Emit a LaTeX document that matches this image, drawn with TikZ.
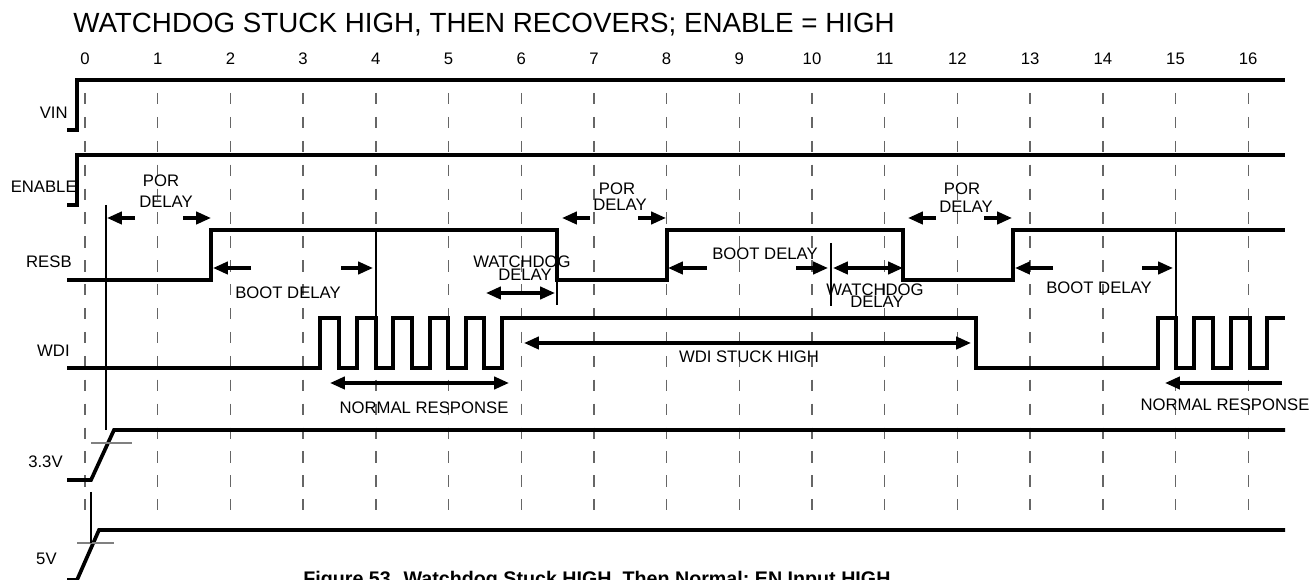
\documentclass[tikz,border=0pt]{standalone}
\usepackage{fontspec}
\setmainfont{Liberation Sans}
\usetikzlibrary{arrows.meta}

\tikzset{
  signal/.style={line width=2.1pt, line join=miter},
  grid line/.style={black!60, line width=0.8pt, dash pattern=on 6.4pt off 7.2pt},
  thin mark/.style={line width=0.6pt},
  level mark/.style={black!50, line width=0.9pt},
  delay arrow/.style={line width=1.9pt, -{Triangle[length=8.5pt,width=7pt]}},
  span arrow/.style={line width=1.9pt, {Triangle[length=8.5pt,width=7pt]}-{Triangle[length=8.5pt,width=7pt]}},
  lbl/.style={font=\fontsize{9.5}{11}\selectfont, inner sep=0pt},
  title/.style={font=\fontsize{15.8}{18}\selectfont, inner sep=0pt},
  caption/.style={font=\fontsize{11.2}{13}\selectfont\bfseries, inner sep=0pt},
}

\begin{document}
\begin{tikzpicture}[x=0.02cm, y=-0.02cm]
  % Page size
  \useasboundingbox (0,0) rectangle (1315,580);
  \clip (0,0) rectangle (1315,580);

  % Title
  \node[title, anchor=west] (title) at (73,25) {WATCHDOG STUCK HIGH, THEN RECOVERS; ENABLE = HIGH};

  % Time scale and dashed grid
  \foreach \i in {0,...,16} {
    \node[lbl] (t\i) at (85+72.7*\i,59) {\i};
    \draw[grid line] (85+72.7*\i,93) -- (85+72.7*\i,518);
  }

  % Signal names
  \node[lbl, anchor=east] (vin)    at (68,113) {VIN};
  \node[lbl, anchor=east] (enable) at (77,187) {ENABLE};
  \node[lbl, anchor=east] (resb)   at (72,262) {RESB};
  \node[lbl, anchor=east] (wdi)    at (70,351) {WDI};
  \node[lbl, anchor=east] (v33)    at (63,462) {3.3V};
  \node[lbl, anchor=east] (v5)     at (57,559) {5V};

  % Waveforms
  \draw[signal] (67,130) -- (77,130) -- (77,80) -- (1285,80);
  \draw[signal] (67,205) -- (77,205) -- (77,155) -- (1285,155);
  \draw[signal] (67,280) -- (211,280) -- (211,230) -- (557,230) -- (557,280) -- (667,280)
    -- (667,230) -- (903,230) -- (903,280) -- (1013,280) -- (1013,230) -- (1285,230);
  \draw[signal] (67,368) -- (320,368) -- (320,318) -- (339,318) -- (339,368) -- (357,368)
    -- (357,318) -- (376,318) -- (376,368) -- (393,368) -- (393,318) -- (412,318)
    -- (412,368) -- (430,368) -- (430,318) -- (448,318) -- (448,368) -- (466,368)
    -- (466,318) -- (484,318) -- (484,368) -- (502,368) -- (502,318) -- (976,318)
    -- (976,368) -- (1158,368) -- (1158,318) -- (1176,318) -- (1176,368) -- (1194,368)
    -- (1194,318) -- (1213,318) -- (1213,368) -- (1231,368) -- (1231,318) -- (1250,318)
    -- (1250,368) -- (1267,368) -- (1267,318) -- (1285,318);
  \draw[signal] (67,480) -- (91,480) -- (114,430) -- (1285,430);
  \draw[signal] (67,580) -- (77,580) -- (99,530) -- (1285,530);

  % Threshold levels and reference lines
  \draw[level mark] (91,443) -- (132,443);
  \draw[level mark] (77,543) -- (114,543);
  \draw[thin mark] (106,205) -- (106,430);
  \draw[thin mark] (91,492) -- (91,543);
  \draw[thin mark] (376,230) -- (376,318);
  \draw[thin mark] (557,280) -- (557,305);
  \draw[thin mark] (831,243) -- (831,306);
  \draw[thin mark] (1176,230) -- (1176,318);

  % POR delays
  \draw[delay arrow] (135,218) -- (107,218);
  \draw[delay arrow] (183,218) -- (211,218);
  \node[lbl] (por1)  at (161,181) {POR};
  \node[lbl] (pord1) at (166,202) {DELAY};
  \draw[delay arrow] (590,218) -- (562,218);
  \draw[delay arrow] (638,218) -- (666,218);
  \node[lbl] (por2)  at (617,189) {POR};
  \node[lbl] (pord2) at (620,205) {DELAY};
  \draw[delay arrow] (936,218) -- (908,218);
  \draw[delay arrow] (984,218) -- (1012,218);
  \node[lbl] (por3)  at (962,189) {POR};
  \node[lbl] (pord3) at (966,207) {DELAY};

  % Boot delays
  \draw[delay arrow] (251,268) -- (213,268);
  \draw[delay arrow] (341,268) -- (373,268);
  \node[lbl] (boot1) at (288,293) {BOOT DELAY};
  \draw[delay arrow] (707,268) -- (668,268);
  \draw[delay arrow] (796,268) -- (828,268);
  \node[lbl] (boot2) at (765,254) {BOOT DELAY};
  \draw[delay arrow] (1053,268) -- (1015,268);
  \draw[delay arrow] (1142,268) -- (1173,268);
  \node[lbl] (boot3) at (1099,288) {BOOT DELAY};

  % Watchdog delays
  \draw[span arrow] (486,293) -- (555,293);
  \node[lbl] (wd1)  at (522,262) {WATCHDOG};
  \node[lbl] (wdd1) at (525,275) {DELAY};
  \draw[span arrow] (833,268) -- (903,268);
  \node[lbl] (wd2)  at (875,290) {WATCHDOG};
  \node[lbl] (wdd2) at (877,302) {DELAY};

  % WDI responses
  \draw[span arrow] (330,383) -- (509,383);
  \node[lbl] (normal1) at (424,408) {NORMAL RESPONSE};
  \draw[span arrow] (524,343) -- (971,343);
  \node[lbl] (stuck) at (749,357) {WDI STUCK HIGH};
  \draw[delay arrow] (1282,383) -- (1165,383);
  \node[lbl] (normal2) at (1225,405) {NORMAL RESPONSE};

  % Caption (cut by the page edge)
  \node[caption, anchor=base west] (cap) at (303,585) {Figure 53. Watchdog Stuck HIGH, Then Normal; EN Input HIGH};
\end{tikzpicture}
\end{document}
